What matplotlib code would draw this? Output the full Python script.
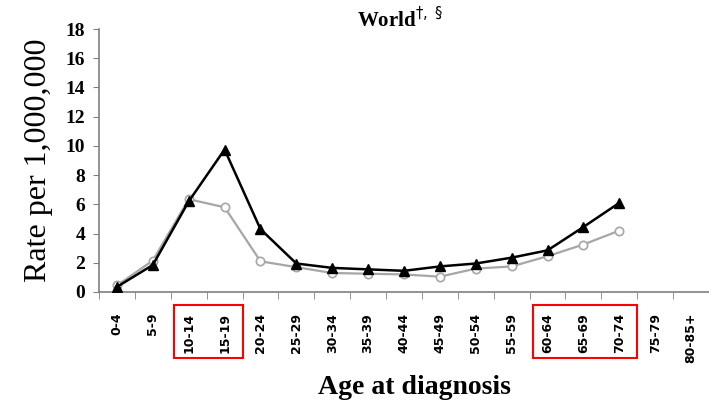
import matplotlib.pyplot as plt
from matplotlib.patches import Rectangle
import matplotlib.transforms as mtransforms
import numpy as np

# age groups and rates (per 1,000,000)
ages = ['0-4', '5-9', '10-14', '15-19', '20-24', '25-29', '30-34', '35-39',
        '40-44', '45-49', '50-54', '55-59', '60-64', '65-69', '70-74',
        '75-79', '80-85+']
rate_black = [0.35, 1.85, 6.2, 9.75, 4.3, 1.95, 1.65, 1.55, 1.45, 1.75,
              1.95, 2.35, 2.85, 4.45, 6.1]
rate_gray = [0.45, 2.15, 6.35, 5.8, 2.1, 1.7, 1.3, 1.25, 1.2, 1.05,
             1.6, 1.75, 2.45, 3.25, 4.2]

# highlighted age groups (first, last index)
highlight = [(2, 3), (12, 14)]

fig = plt.figure(figsize=(7.09, 4.07), dpi=100)
ax = fig.add_axes([99 / 709, 115 / 407, 610 / 709, 263 / 407])

x = np.arange(len(ages))
ax.plot(x[:len(rate_gray)], rate_gray, color='#a6a6a6', lw=1.6, marker='o',
        ms=6, mfc='white', mec='#a6a6a6', mew=1.2, zorder=2)
ax.plot(x[:len(rate_black)], rate_black, color='black', lw=1.8, marker='^',
        ms=7, mfc='black', mec='black', zorder=3)

ax.set_xlim(-0.5, -0.5 + 610 / 36.6)
ax.set_ylim(0, 18)
ax.set_yticks(np.arange(0, 19, 2))
ax.set_yticklabels([str(v) for v in range(0, 19, 2)],
                   fontfamily='Liberation Serif', fontweight='bold', fontsize=14)
ax.set_xticks(x)
ax.set_xticklabels(ages, rotation=90, fontfamily='DejaVu Sans',
                   fontweight='bold', fontsize=9)
ax.set_xticks(np.arange(-0.5, len(ages), 1), minor=True)
ax.tick_params(axis='x', which='major', length=0, pad=15)
ax.tick_params(axis='x', which='minor', length=5, color='#808080')
ax.tick_params(axis='y', length=4, color='#808080', pad=6)

for s in ['top', 'right']:
    ax.spines[s].set_visible(False)
for s in ['left', 'bottom']:
    ax.spines[s].set_color('#808080')
    ax.spines[s].set_linewidth(1.2)

ax.set_ylabel('Rate per 1,000,000', fontfamily='Liberation Serif',
              fontsize=23, labelpad=9)
fig.text(414 / 709, 1 - 387 / 407, 'Age at diagnosis', ha='center',
         va='center', fontfamily='Liberation Serif', fontweight='bold',
         fontsize=20)
fig.text(400 / 709, 1 - 20 / 407, r'World$^{\dagger,\ \S}$', ha='center',
         va='center', fontfamily='Liberation Serif', fontweight='bold',
         fontsize=15)

# red boxes around highlighted labels
trans = mtransforms.blended_transform_factory(ax.transData, ax.transAxes)
for a, b in highlight:
    x0 = a - 0.4
    x1 = b + 0.5
    ax.add_patch(Rectangle((x0, -0.25), x1 - x0, 0.2, transform=trans,
                           fill=False, ec='red', lw=1.5, clip_on=False))

fig.savefig('out.png', dpi=100)
